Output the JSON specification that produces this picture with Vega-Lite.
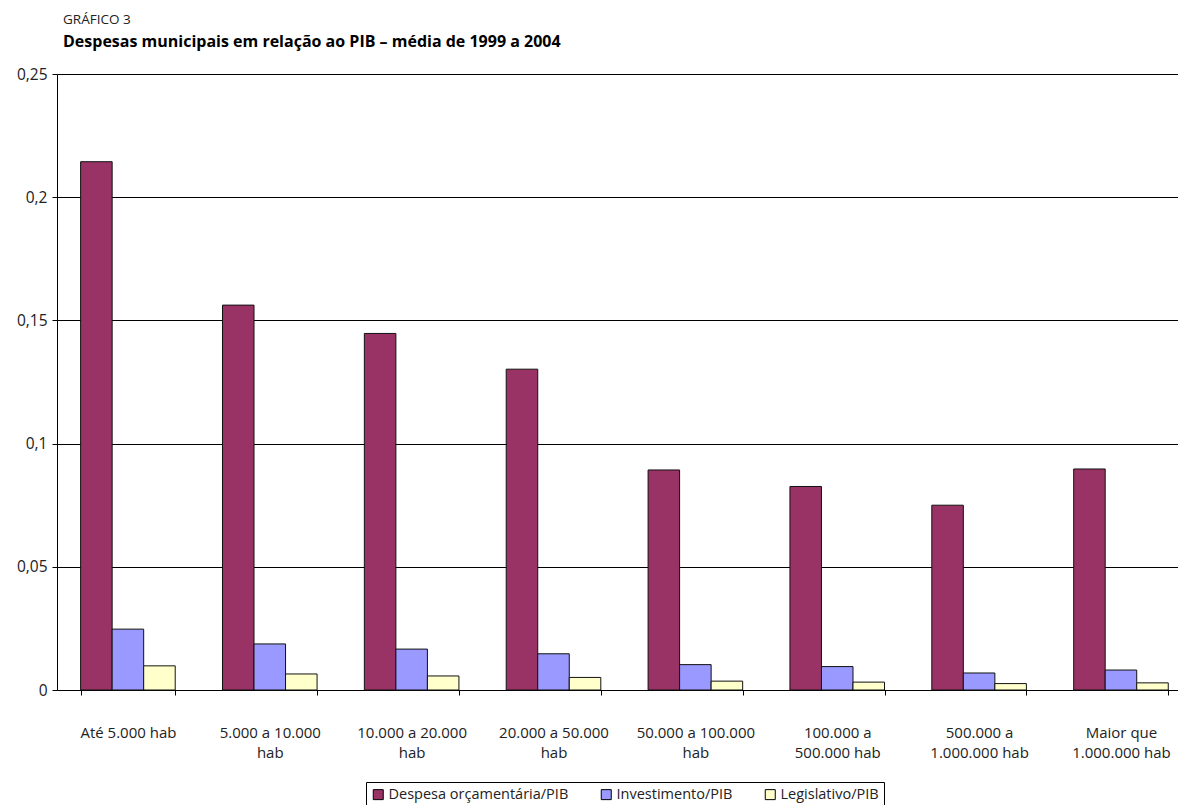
{
  "$schema": "https://vega.github.io/schema/vega-lite/v6.json",
  "width": 1121,
  "height": 616,
  "autosize": {"type": "none"},
  "padding": {"left": 57, "top": 74, "right": 0, "bottom": 115},
  "background": "white",
  "title": {
    "text": "GRÁFICO 3",
    "subtitle": "Despesas municipais em relação ao PIB – média de 1999 a 2004",
    "anchor": "start",
    "frame": "group",
    "dx": 6,
    "offset": 17,
    "font": "Open Sans",
    "fontSize": 13.5,
    "fontWeight": "normal",
    "color": "#222222",
    "subtitleFont": "Open Sans",
    "subtitleFontSize": 16,
    "subtitleFontWeight": "bold",
    "subtitleColor": "#000000",
    "subtitlePadding": 8
  },
  "data": {
    "values": [
      {"faixa": "Até 5.000 hab", "serie": "Despesa orçamentária/PIB", "valor": 0.2144},
      {"faixa": "Até 5.000 hab", "serie": "Investimento/PIB", "valor": 0.0247},
      {"faixa": "Até 5.000 hab", "serie": "Legislativo/PIB", "valor": 0.0098},
      {"faixa": "5.000 a 10.000 hab", "serie": "Despesa orçamentária/PIB", "valor": 0.1562},
      {"faixa": "5.000 a 10.000 hab", "serie": "Investimento/PIB", "valor": 0.0187},
      {"faixa": "5.000 a 10.000 hab", "serie": "Legislativo/PIB", "valor": 0.0065},
      {"faixa": "10.000 a 20.000 hab", "serie": "Despesa orçamentária/PIB", "valor": 0.1447},
      {"faixa": "10.000 a 20.000 hab", "serie": "Investimento/PIB", "valor": 0.0166},
      {"faixa": "10.000 a 20.000 hab", "serie": "Legislativo/PIB", "valor": 0.0057},
      {"faixa": "20.000 a 50.000 hab", "serie": "Despesa orçamentária/PIB", "valor": 0.1302},
      {"faixa": "20.000 a 50.000 hab", "serie": "Investimento/PIB", "valor": 0.0147},
      {"faixa": "20.000 a 50.000 hab", "serie": "Legislativo/PIB", "valor": 0.0051},
      {"faixa": "50.000 a 100.000 hab", "serie": "Despesa orçamentária/PIB", "valor": 0.0893},
      {"faixa": "50.000 a 100.000 hab", "serie": "Investimento/PIB", "valor": 0.0103},
      {"faixa": "50.000 a 100.000 hab", "serie": "Legislativo/PIB", "valor": 0.0036},
      {"faixa": "100.000 a 500.000 hab", "serie": "Despesa orçamentária/PIB", "valor": 0.0826},
      {"faixa": "100.000 a 500.000 hab", "serie": "Investimento/PIB", "valor": 0.0095},
      {"faixa": "100.000 a 500.000 hab", "serie": "Legislativo/PIB", "valor": 0.0032},
      {"faixa": "500.000 a 1.000.000 hab", "serie": "Despesa orçamentária/PIB", "valor": 0.0750},
      {"faixa": "500.000 a 1.000.000 hab", "serie": "Investimento/PIB", "valor": 0.0069},
      {"faixa": "500.000 a 1.000.000 hab", "serie": "Legislativo/PIB", "valor": 0.0026},
      {"faixa": "Maior que 1.000.000 hab", "serie": "Despesa orçamentária/PIB", "valor": 0.0897},
      {"faixa": "Maior que 1.000.000 hab", "serie": "Investimento/PIB", "valor": 0.0081},
      {"faixa": "Maior que 1.000.000 hab", "serie": "Legislativo/PIB", "valor": 0.0029}
    ]
  },
  "mark": {"type": "bar", "stroke": "#111111", "strokeWidth": 1},
  "encoding": {
    "x": {
      "field": "faixa",
      "type": "nominal",
      "sort": null,
      "scale": {"paddingInner": 0.3333, "paddingOuter": 0.1176, "align": 0.708},
      "axis": {
        "title": null,
        "labelAngle": 0,
        "labelFont": "Open Sans",
        "labelFontSize": 15,
        "labelColor": "#222222",
        "labelLineHeight": 20,
        "labelPadding": 30,
        "labelLimit": 300,
        "labelOverlap": false,
        "tickBand": "extent",
        "tickSize": 5,
        "tickColor": "#000000",
        "domainColor": "#000000",
        "labelExpr": "(datum.extra || !datum.label) ? '' : (datum.label == 'Até 5.000 hab' ? datum.label : (indexof(['100.000 a 500.000 hab','500.000 a 1.000.000 hab','Maior que 1.000.000 hab'], datum.label) >= 0 ? [join(slice(split(datum.label, ' '), 0, 2), ' '), join(slice(split(datum.label, ' '), 2), ' ')] : [replace(datum.label, ' hab', ''), 'hab']))"
      }
    },
    "xOffset": {
      "field": "serie",
      "type": "nominal",
      "sort": ["Despesa orçamentária/PIB", "Investimento/PIB", "Legislativo/PIB"],
      "scale": {"paddingInner": 0, "paddingOuter": 0}
    },
    "y": {
      "field": "valor",
      "type": "quantitative",
      "scale": {"domain": [0, 0.25], "nice": false},
      "axis": {
        "title": null,
        "values": [0, 0.05, 0.1, 0.15, 0.2, 0.25],
        "grid": true,
        "gridColor": "#000000",
        "gridWidth": 1,
        "tickSize": 5,
        "tickColor": "#000000",
        "domainColor": "#000000",
        "labelFont": "Open Sans",
        "labelFontSize": 15.5,
        "labelColor": "#222222",
        "labelPadding": 5,
        "labelExpr": "replace(format(datum.value, '~g'), '.', ',')"
      }
    },
    "color": {
      "field": "serie",
      "type": "nominal",
      "scale": {
        "domain": ["Despesa orçamentária/PIB", "Investimento/PIB", "Legislativo/PIB"],
        "range": ["#993366", "#9999FF", "#FFFFCC"]
      },
      "legend": {
        "title": null,
        "orient": "none",
        "legendX": 309,
        "legendY": 708,
        "direction": "horizontal",
        "strokeColor": "#000000",
        "fillColor": "#FFFFFF",
        "padding": 5,
        "symbolType": "square",
        "symbolSize": 100,
        "symbolStrokeColor": "#000000",
        "symbolStrokeWidth": 1,
        "symbolOpacity": 1,
        "labelFont": "Open Sans",
        "labelFontSize": 14.5,
        "labelLimit": 400,
        "labelColor": "#222222",
        "labelOffset": 3,
        "columnPadding": 30
      }
    }
  },
  "config": {"view": {"stroke": null}}
}
